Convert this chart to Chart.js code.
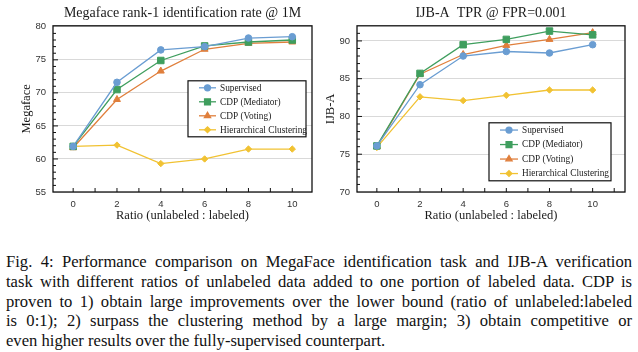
<!DOCTYPE html>
<html>
<head>
<meta charset="utf-8">
<script src="https://cdn.jsdelivr.net/npm/chart.js@4.4.1/dist/chart.umd.min.js"></script>
<style>
body{margin:0;background:#fff;width:638px;height:352px;overflow:hidden;position:relative}
.box{position:absolute;top:0}
#leftBox{left:0;width:318px;height:228px}
#rightBox{left:318px;width:320px;height:228px}
#caption{position:absolute;left:6px;top:252px;width:626px;font-family:"Liberation Serif",serif;font-size:16.6px;line-height:19.8px;color:#111}
#caption div{white-space:nowrap;text-align:justify;text-align-last:justify}
#caption div.last{text-align-last:left}
</style>
</head>
<body>
<div class="box" id="leftBox"><canvas id="megaChart"></canvas></div>
<div class="box" id="rightBox"><canvas id="ijbChart"></canvas></div>
<div id="caption">
<div>Fig. 4: Performance comparison on MegaFace identification task and IJB-A verification</div>
<div>task with different ratios of unlabeled data added to one portion of labeled data. CDP is</div>
<div>proven to 1) obtain large improvements over the lower bound (ratio of unlabeled:labeled</div>
<div>is 0:1); 2) surpass the clustering method by a large margin; 3) obtain competitive or</div>
<div class="last">even higher results over the fully-supervised counterpart.</div>
</div>
<script>
// ratio of unlabeled : labeled
const ratios=[0,2,4,6,8,10];

const seriesNames=["Supervised","CDP (Mediator)","CDP (Voting)","Hierarchical Clustering"];

// Megaface rank-1 @ 1M
const megaSupervised=[61.9,71.6,76.5,77.0,78.3,78.5];
const megaMediator=[61.9,70.5,74.9,77.1,77.7,78.0];
const megaVoting=[61.7,69.0,73.3,76.6,77.5,77.7];
const megaHC=[61.9,62.1,59.3,60.0,61.5,61.5];
const megaTicks=[55,60,65,70,75,80];

// IJB-A TPR @ FPR=0.001
const ijbSupervised=[76.1,84.2,88.0,88.6,88.4,89.5];
const ijbMediator=[76.1,85.7,89.5,90.2,91.3,90.8];
const ijbVoting=[76.0,85.6,88.2,89.4,90.2,91.1];
const ijbHC=[75.9,82.6,82.1,82.8,83.5,83.5];
const ijbTicks=[70,75,80,85,90];

const colors=["#6a9dd2","#3f9e5e","#e07f3c","#f1c232"];
const markers=["circle","rect","triangle","rectRot"];
const markerSize=[3.3,4.6,4,3.2];

const serif='"Liberation Serif", serif';
const sans='"Liberation Sans", Arial, sans-serif';

function makeSets(values){
return values.map((vals,i)=>({
label:seriesNames[i],
data:vals.map((v,j)=>({x:ratios[j],y:v})),
borderColor:colors[i],
backgroundColor:colors[i],
borderWidth:1.3,
pointStyle:markers[i],
pointRadius:markerSize[i],
pointBorderWidth:1,
tension:0
}));
}

// frame around plot, small inward ticks, legend box inside plot
const framePlugin={
id:"frame",
afterDatasetsDraw(chart,args,opts){
const ctx=chart.ctx;
const a=chart.chartArea;
ctx.save();
ctx.strokeStyle="#111";
ctx.lineWidth=1.3;
ctx.strokeRect(a.left,a.top,a.right-a.left,a.bottom-a.top);

ctx.lineWidth=1;
const xs=chart.scales.x;
for(let v=Math.ceil(xs.min);v<=xs.max;v++){
const px=xs.getPixelForValue(v);
if(px<=a.left+1||px>=a.right-1) continue;
ctx.beginPath();
ctx.moveTo(px,a.bottom);
ctx.lineTo(px,a.bottom-4);
ctx.stroke();
}
const ys=chart.scales.y;
for(let v=Math.ceil(ys.min);v<=ys.max;v++){
const py=ys.getPixelForValue(v);
if(py>=a.bottom-1||py<=a.top+1) continue;
ctx.beginPath();
ctx.moveTo(a.left,py);
ctx.lineTo(a.left+(v%5===0?5:3),py);
ctx.stroke();
}

const b=opts.box;
const bx=a.left+b.x, by=a.top+b.y;
ctx.fillStyle="#fff";
ctx.fillRect(bx,by,b.w,b.h);
ctx.strokeStyle="#111";
ctx.lineWidth=1.2;
ctx.strokeRect(bx,by,b.w,b.h);
const rowH=b.h/4;
chart.data.datasets.forEach((ds,i)=>{
const cy=by+rowH*(i+0.5);
ctx.strokeStyle=ds.borderColor;
ctx.lineWidth=1.3;
ctx.beginPath();
ctx.moveTo(bx+b.lineX,cy);
ctx.lineTo(bx+b.lineX+b.lineW,cy);
ctx.stroke();
ctx.fillStyle=ds.backgroundColor;
Chart.helpers.drawPoint(ctx,{pointStyle:ds.pointStyle,radius:ds.pointRadius*0.9,rotation:0,borderWidth:1},bx+b.lineX+b.lineW/2,cy);
ctx.fillStyle="#222";
ctx.font="9.3px "+serif;
ctx.textBaseline="middle";
ctx.textAlign="left";
ctx.fillText(ds.label,bx+b.lineX+b.lineW+4,cy+0.5);
});
ctx.restore();
}
};

function drawChart(id,title,yTitle,sets,yMin,yMax,yTicks,yWidth,yTitlePad,padRight,xMax,legendBox){
const ctx=document.getElementById(id).getContext("2d");
return new Chart(ctx,{
type:"line",
data:{datasets:sets},
options:{
responsive:true,
maintainAspectRatio:false,
animation:false,
layout:{padding:{top:0,right:padRight,bottom:0,left:0}},
plugins:{
legend:{display:false},
tooltip:{enabled:false},
title:{
display:true,
text:title,
fullSize:false,
color:"#1a1a1a",
font:{family:serif,size:14,weight:"normal"},
padding:{top:5,bottom:4}
},
frame:{box:legendBox}
},
scales:{
x:{
type:"linear",
min:-0.92,
max:xMax,
afterBuildTicks:s=>{s.ticks=ratios.map(v=>({value:v}));},
afterFit:s=>{s.height=36;},
grid:{display:false,drawTicks:false},
border:{display:false},
ticks:{color:"#333",font:{family:sans,size:9.5},padding:7},
title:{display:true,text:"Ratio (unlabeled : labeled)",color:"#1a1a1a",font:{family:serif,size:12.5},padding:{top:0,bottom:5}}
},
y:{
min:yMin,
max:yMax,
afterBuildTicks:s=>{s.ticks=yTicks.map(v=>({value:v}));},
afterFit:s=>{s.width=yWidth;},
grid:{color:"#d9d9d9",lineWidth:1,drawTicks:false},
border:{display:false},
ticks:{color:"#333",font:{family:sans,size:9.5},padding:7},
title:{display:true,text:yTitle,color:"#1a1a1a",font:{family:serif,size:12.5},padding:{top:yTitlePad,bottom:0}}
}
}
},
plugins:[framePlugin]
});
}

drawChart("megaChart","Megaface rank-1 identification rate @ 1M","Megaface",
makeSets([megaSupervised,megaMediator,megaVoting,megaHC]),
55,80.15,megaTicks,53,19,6,10.9,
{x:135,y:55,w:118,h:56,lineX:11,lineW:17});

drawChart("ijbChart","IJB-A  TPR @ FPR=0.001","IJB-A",
makeSets([ijbSupervised,ijbMediator,ijbVoting,ijbHC]),
70,92,ijbTicks,39,5,13,11.5,
{x:132,y:97,w:122,h:58,lineX:11,lineW:18});
</script>
</body>
</html>
